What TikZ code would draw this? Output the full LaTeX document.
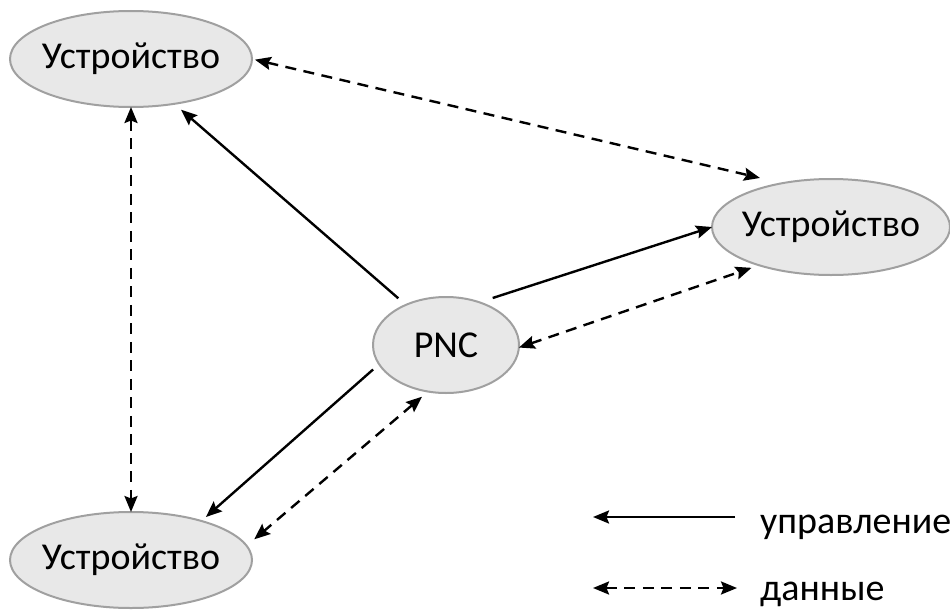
\documentclass[tikz,border=0pt]{standalone}
\usepackage{fontspec}
\setmainfont{Carlito}
\usepackage{tikz}
\definecolor{cc}{RGB}{232, 232, 232}
\definecolor{bd}{RGB}{160, 160, 160}
\usetikzlibrary{positioning}
\usetikzlibrary{arrows.meta}
\usetikzlibrary{shapes.geometric}
\tikzset{
  dev/.style={ellipse, minimum width=242pt, minimum height=96pt, inner sep=0pt, inner xsep=-8pt, outer sep=0pt, fill=cc, line width=2pt, draw=bd, font=\fontsize{38}{45}\selectfont},
  tip/.style={-{Stealth[length=16pt, width=13pt, inset=2.5pt]}},
  ctl/.style={line width=2.4pt, color=black, tip},
  dat/.style={line width=2.4pt, color=black, dash pattern=on 11pt off 7.5pt, {Stealth[length=16pt, width=13pt, inset=2.5pt]}-{Stealth[length=16pt, width=13pt, inset=2.5pt]}},
  txt/.style={anchor=base west, inner sep=0pt, font=\fontsize{38}{45}\selectfont}
}

\begin{document}
\begin{tikzpicture}
\useasboundingbox (0pt, 0pt) rectangle (950pt, -610pt);
\node (1) [dev] at (131pt, -59pt) {Устройство};
\node (2) [dev, minimum width=238pt] at (831pt, -227pt) {Устройство};
\node (3) [dev] at (131pt, -560pt) {Устройство};
\node (4) [dev, minimum width=146pt] at (446pt, -345pt) {PNC};
\draw [dat, shorten <=3pt, shorten >=23pt] (1.0) to (2.138);
\draw [dat] (1.south) to (3.north);
\draw [ctl, shorten <=10pt, shorten >=9pt] (4.135) to (1.-46);
\draw [ctl, shorten <=14pt] (4.52) to (2.180);
\draw [dat, shorten >=8pt] (4.-2) to (2.208);
\draw [ctl, shorten <=8pt, shorten >=6pt] (4.196) to (3.29);
\draw [dat, shorten <=8pt, shorten >=10pt] (4.249) to (3.7);
% legend
\coordinate (5) at (593pt, -517pt);
\coordinate (6) at (735pt, -517pt);
\coordinate (7) at (593pt, -588pt);
\coordinate (8) at (737pt, -588pt);
\node (9) [txt] at (760pt, -533pt) {управление};
\node (10) [txt] at (760pt, -600pt) {данные};
\draw [ctl] (6) to (5);
\draw [dat] (7) to (8);
\end{tikzpicture}
\end{document}
